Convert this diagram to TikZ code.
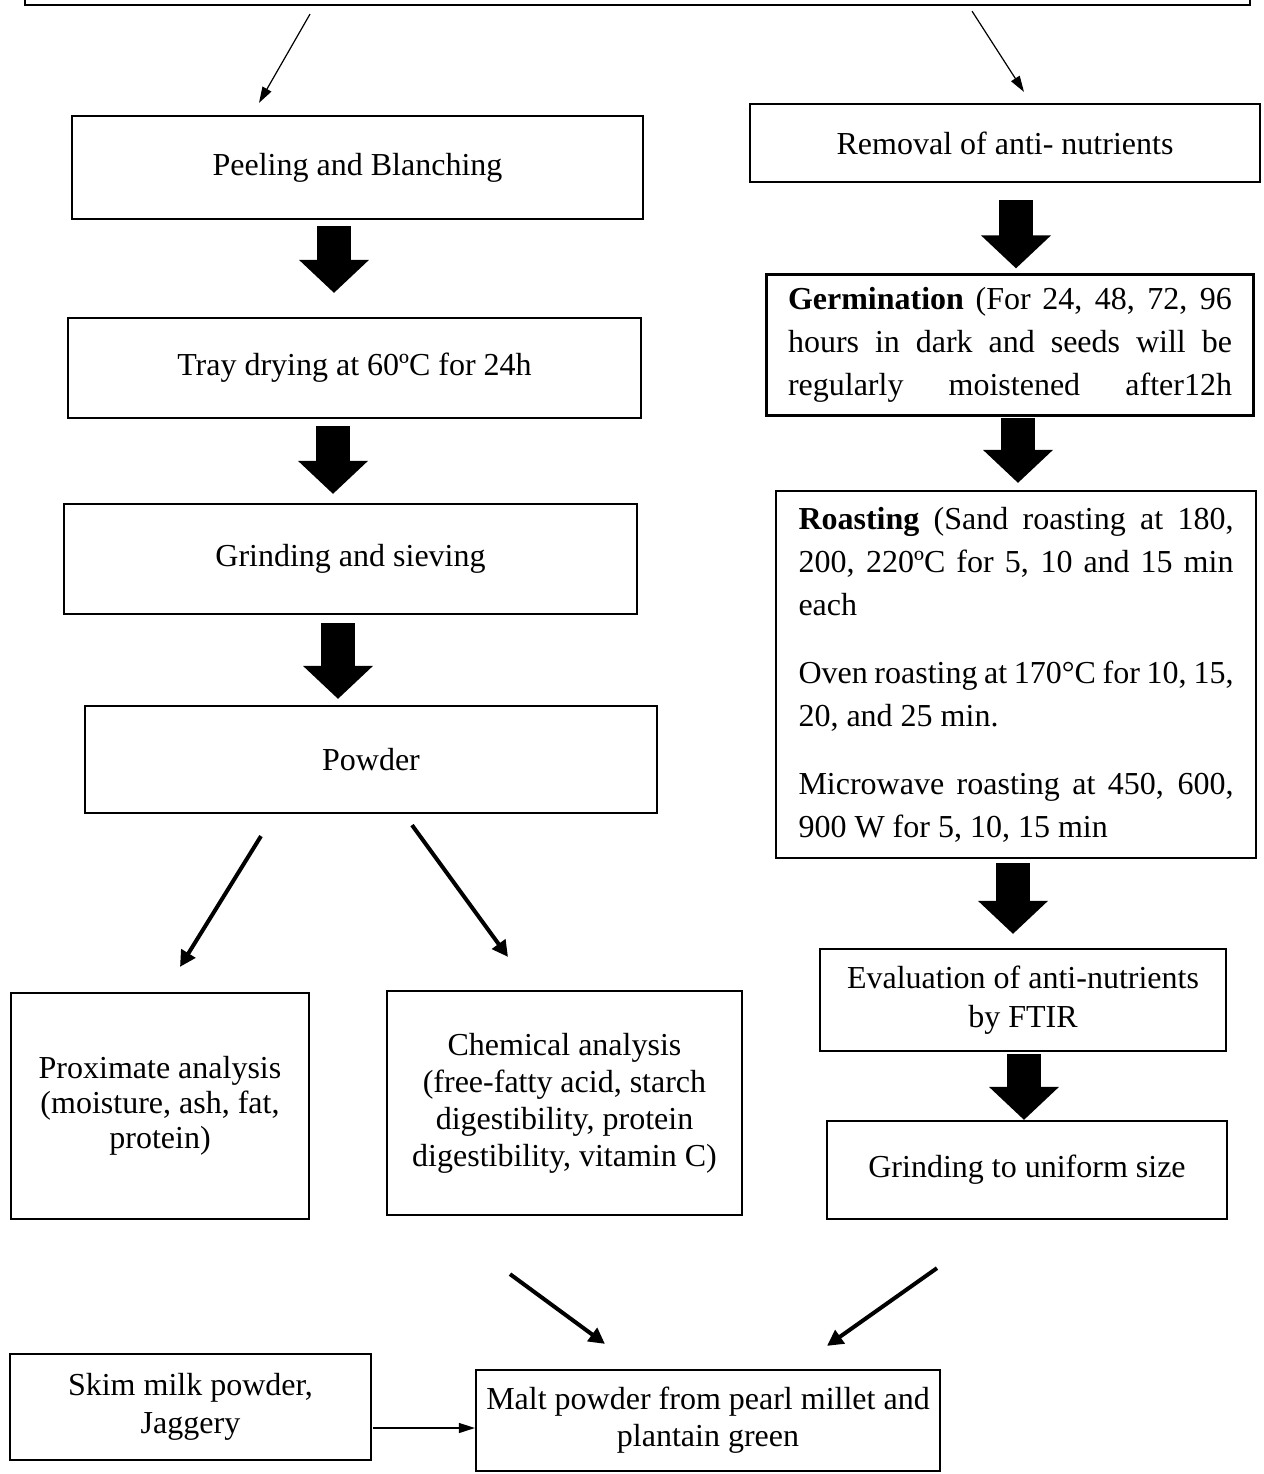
\documentclass[tikz,border=0pt]{standalone}
\usepackage{fontspec}
\setmainfont{Liberation Serif}
\usetikzlibrary{arrows.meta}
\setlength{\parindent}{0pt}

\begin{document}
\begin{tikzpicture}[x=0.5pt, y=-0.5pt,
	box/.style={draw, line width=1.1pt, inner sep=0pt, align=center, font=\fontsize{16pt}{18pt}\selectfont},
	parabox/.style={box, align=justify, font=\fontsize{16pt}{21.5pt}\selectfont},
	blockarrow/.style={line width=17pt, -{Triangle[width=34pt,length=16.5pt]}},
	thinarrow/.style={line width=0.6pt, -{Triangle[width=5pt,length=8pt]}},
	thickarrow/.style={line width=2pt, -{Triangle[width=8pt,length=8pt]}}]
	\useasboundingbox (0,0) rectangle (1264,1474);
	\node[box, minimum width=612.5pt, minimum height=50pt] (src) at (637.5,-45) {};
	% left column
	\node[box, minimum width=285.5pt, minimum height=51.5pt] (peel) at (357.5,167.5) {Peeling and Blanching};
	\node[box, minimum width=286.5pt, minimum height=50pt] (tray) at (354.5,368) {Tray drying at 60ºC for 24h};
	\node[box, minimum width=286.5pt, minimum height=55pt] (grind) at (350.5,559) {Grinding and sieving};
	\node[box, minimum width=286pt, minimum height=53.5pt] (powder) at (371,759.5) {Powder};
		\node[box, minimum width=149pt, minimum height=113pt, font=\fontsize{16pt}{17.5pt}\selectfont] (prox) at (160,1106) {Proximate analysis\\(moisture, ash, fat,\\protein)};
		\node[box, minimum width=177.5pt, minimum height=112pt, font=\fontsize{16pt}{18.5pt}\selectfont] (chem) at (564.5,1103) {Chemical analysis\\(free-fatty acid, starch\\digestibility, protein\\digestibility, vitamin C)};
	% right column
	\node[box, minimum width=255pt, minimum height=39pt] (removal) at (1005,143) {Removal of anti- nutrients};
	\node[parabox, text width=222pt, inner xsep=10.75pt, minimum height=70.5pt] (germ) at (1010,345) {\textbf{Germination} (For 24, 48, 72, 96\linebreak hours in dark and seeds will be\linebreak regularly\hfill moistened\hfill after12h};
	\node[parabox, text width=217.5pt, inner xsep=11.25pt, minimum height=183.5pt] (roast) at (1016,674.5) {\textbf{Roasting} (Sand roasting at 180,\linebreak 200, 220ºC for 5, 10 and 15 min\linebreak each\par\vspace{12.5pt}
		Oven roasting at 170°C for 10, 15,\linebreak 20, and 25 min.\par\vspace{12.5pt}
		Microwave roasting at 450, 600,\linebreak 900 W for 5, 10, 15 min};
	\node[box, minimum width=203pt, minimum height=51pt, font=\fontsize{16pt}{19.5pt}\selectfont] (eval) at (1023,1000) {Evaluation of anti-nutrients\\by FTIR};
	\node[box, minimum width=200pt, minimum height=49pt] (uniform) at (1027,1170) {Grinding to uniform size};
	% bottom
	\node[box, minimum width=180.5pt, minimum height=53pt, font=\fontsize{16pt}{19pt}\selectfont] (skim) at (190.5,1407) {Skim milk powder,\\Jaggery};
	\node[box, minimum width=232pt, minimum height=50.5pt, font=\fontsize{16pt}{18.5pt}\selectfont] (malt) at (708,1420.5) {Malt powder from pearl millet and\\plantain green};

	\draw[thinarrow] ([shift={(-327.5,8)}]src.south) to ([shift={(-98.5,-12)}]peel.north);
	\draw[thinarrow] ([shift={(334.5,5)}]src.south) to ([shift={(19,-11)}]removal.north);
	\draw[blockarrow] ([shift={(-23.5,6)}]peel.south) to ([shift={(-20.5,-24)}]tray.north);
	\draw[blockarrow] ([shift={(-21.5,7)}]tray.south) to ([shift={(-17.5,-9)}]grind.north);
	\draw[blockarrow] ([shift={(-12.5,8)}]grind.south) to ([shift={(-33,-6)}]powder.north);
	\draw[thickarrow] ([shift={(-110,22)}]powder.south) to ([shift={(20,-25)}]prox.north);
	\draw[thickarrow] ([shift={(41,11)}]powder.south) to ([shift={(-56.5,-33)}]chem.north);
	\draw[blockarrow] ([shift={(11,17)}]removal.south) to ([shift={(6,-5)}]germ.north);
	\draw[blockarrow] ([shift={(8,1)}]germ.south) to ([shift={(2,-7)}]roast.north);
	\draw[blockarrow] ([shift={(-3,4)}]roast.south) to ([shift={(-10,-14)}]eval.north);
	\draw[blockarrow] ([shift={(1,2)}]eval.south) to ([shift={(-3,0)}]uniform.north);
	\draw[thickarrow] ([shift={(-54.5,58)}]chem.south) to ([shift={(-103,-25)}]malt.north);
	\draw[thickarrow] ([shift={(-90,48)}]uniform.south) to ([shift={(119,-23)}]malt.north);
	\draw[thinarrow] ([shift={(1,21)}]skim.east) to ([shift={(0,7.5)}]malt.west);
\end{tikzpicture}
\end{document}
